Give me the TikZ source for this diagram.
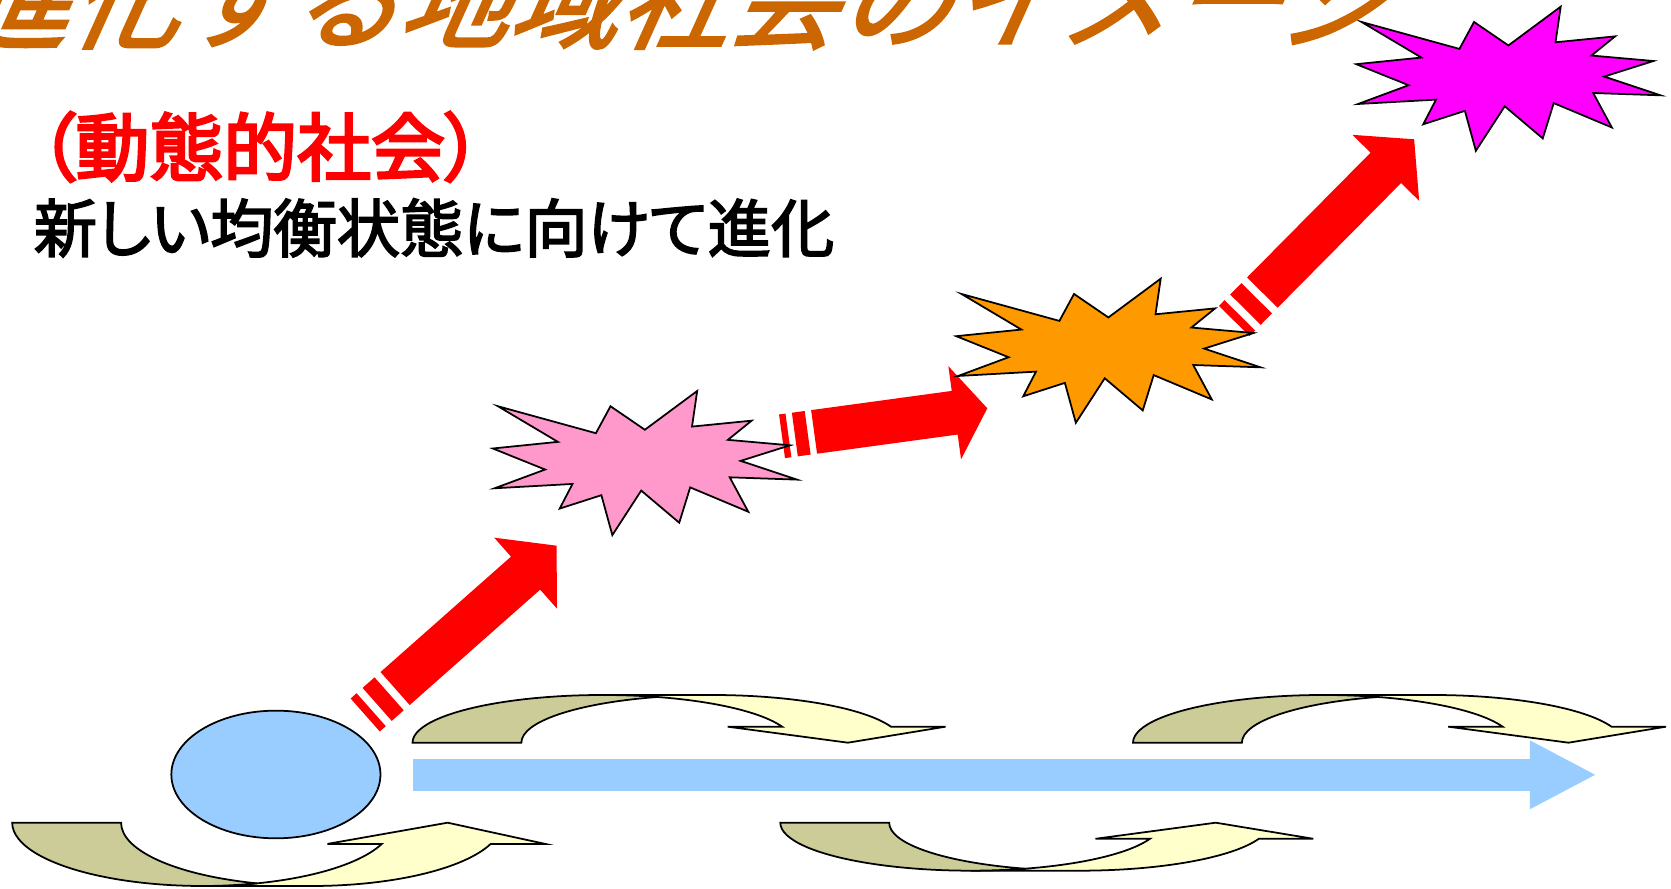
\documentclass[tikz,border=0pt]{standalone}
\usepackage{fontspec}
\usetikzlibrary{calc,arrows.meta,shapes.geometric}
\newfontfamily\jpfont{Noto Sans CJK JP}[RawFeature=+palt,FakeBold=2.6]
\newfontfamily\jpred{Noto Sans CJK JP}[RawFeature=+palt,FakeBold=3.6]
\newfontfamily\jptitle{Noto Sans CJK JP}[FakeSlant=0.45,FakeBold=2.4]
\definecolor{titleorange}{HTML}{CC6600}
\definecolor{flowblue}{HTML}{99CCFF}
\definecolor{burstpink}{HTML}{FF99CC}
\definecolor{burstorange}{HTML}{FF9900}
\definecolor{burstmagenta}{HTML}{FF00FF}
\definecolor{twistfront}{HTML}{FFFFCC}
\definecolor{twistback}{HTML}{CCCC99}

\tikzset{
  edgeline/.style={draw=black,line width=0.5pt},
  flow/.style={flowblue,line width=0.317cm,-{Triangle[length=0.667cm,width=0.634cm]}},
  pics/burst/.style={code={
    \filldraw[edgeline,fill=#1,x=0.0304cm,y=-0.0144cm] (50,26.9) -- (67.2,0) -- (65.5,24.7)
      -- (85.1,20.6) -- (77.3,33.9) -- (97.7,37.7) -- (81.5,48.5) -- (100,61.5) -- (77.9,59.9)
      -- (84,83.8) -- (64.9,66.9) -- (61.3,91.4) -- (48.8,69.1) -- (39.3,100) -- (35.7,72.3)
      -- (22,81.6) -- (26.2,64.5) -- (0.6,67.5) -- (17.2,54.5) -- (0,39.9) -- (21.4,35.3)
      -- (1.7,10.6) -- (33.9,29.3) -- (38.7,10.6) -- cycle;
  }},
  pics/twist/.style={code={
    \filldraw[edgeline,fill=twistfront] (245.1,0) -- (124.9,0.3354) -- (179.3,0.3354)
      arc[start angle=19.6,end angle=90,x radius=190.3,y radius=1] -- (108.9,1)
      arc[start angle=90,end angle=19.6,x radius=190.3,y radius=1] -- (342.7,0.3354) -- cycle;
    \filldraw[edgeline,fill=twistback] (54.5,0.9583)
      arc[start angle=106.6,end angle=180,x radius=190.3,y radius=1] -- (-190.3,0)
      arc[start angle=180,end angle=73.4,x radius=190.3,y radius=1] -- cycle;
  }}
}

% tail, tip, head length, head half width, shaft half width
\newcommand\stripedarrow[5]{%
  \fill[red] ($(#1)!#5!90:(#2)$) -- ($(#1)!0.03125!(#2)!#5!90:(#2)$)
    -- ($(#1)!0.03125!(#2)!#5!-90:(#2)$) -- ($(#1)!#5!-90:(#2)$) -- cycle
    ($(#1)!0.0625!(#2)!#5!90:(#2)$) -- ($(#1)!0.125!(#2)!#5!90:(#2)$)
    -- ($(#1)!0.125!(#2)!#5!-90:(#2)$) -- ($(#1)!0.0625!(#2)!#5!-90:(#2)$) -- cycle
    ($(#1)!0.15625!(#2)!#5!90:(#2)$) -- ($(#2)!#3!(#1)!#5!-90:(#1)$)
    -- ($(#2)!#3!(#1)!#4!-90:(#1)$) -- (#2) -- ($(#2)!#3!(#1)!#4!90:(#1)$)
    -- ($(#2)!#3!(#1)!#5!90:(#1)$) -- ($(#1)!0.15625!(#2)!#5!-90:(#2)$) -- cycle;
}

\begin{document}
\begin{tikzpicture}[x=0.01cm,y=0.01cm]
  \useasboundingbox (0,0) rectangle (1671,889);
  \pic[yscale=47.7] at (602.8,146.3) {twist};
  \pic[yscale=47.7] at (1323.3,146.3) {twist};
  \pic[yscale=-63.3] at (202.5,66.3) {twist};
  \pic[yscale=-48] at (970.6,66.3) {twist};
  \coordinate(flow0) at (412.5,114.2);
  \coordinate(flow1) at (1596.7,114.2);
  \draw[flow] (flow0) -- (flow1);
  \node(base)[ellipse,edgeline,fill=flowblue,minimum width=2.09cm,minimum height=1.276cm,inner sep=0] at (275.9,114.5) {};
  \coordinate(t1) at (365.2,174);
  \coordinate(h1) at (556.6,343.3);
  \coordinate(t2) at (782,452.7);
  \coordinate(h2) at (987.3,480.7);
  \coordinate(t3) at (1234.2,568);
  \coordinate(h3) at (1414.1,749.7);
  \stripedarrow{t1}{h1}{0.414cm}{0.473cm}{0.22cm}
  \stripedarrow{t2}{h2}{0.329cm}{0.47cm}{0.22cm}
  \stripedarrow{t3}{h3}{0.402cm}{0.469cm}{0.215cm}
  \pic at (492.8,498) {burst=burstpink};
  \pic at (956.3,610.3) {burst=burstorange};
  \pic at (1356.3,882.3) {burst=burstmagenta};
  \node(title)[anchor=base west,inner sep=0,text=titleorange,font=\jptitle\fontsize{31.3pt}{31.3pt}\selectfont] at (-45,849) {進化する地域社会のイメージ};
  \node(dyn)[anchor=base west,inner sep=0,text=red,font=\jpred\fontsize{21pt}{21pt}\selectfont] at (38,714) {（動態的社会）};
  \node(evo)[anchor=base west,inner sep=0,font=\jpfont\fontsize{18pt}{18pt}\selectfont] at (33,637) {新しい均衡状態に向けて進化};
\end{tikzpicture}
\end{document}
